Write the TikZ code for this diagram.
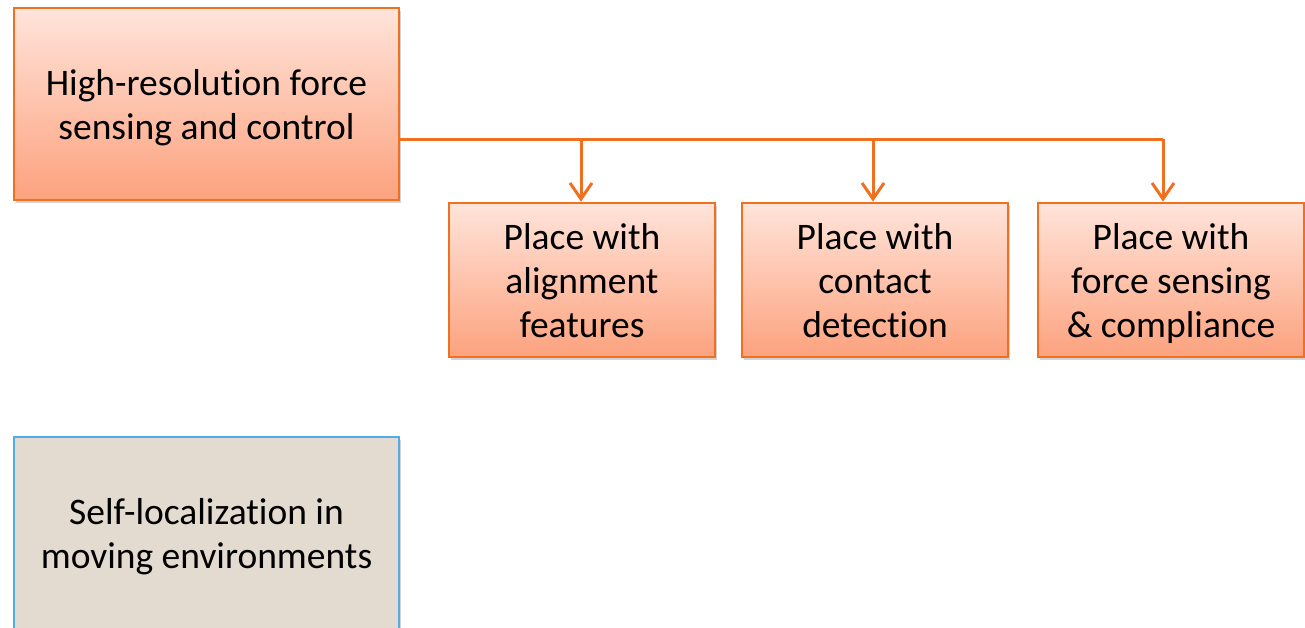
\documentclass[tikz,border=0pt]{standalone}
\usepackage{fontspec}
\setmainfont{Carlito}[Ligatures={NoCommon}]
\usetikzlibrary{arrows.meta,shadows}
\definecolor{orangeline}{HTML}{F07020}
\definecolor{toptone}{HTML}{FFE4DA}
\definecolor{bottone}{HTML}{FCA27E}
\definecolor{blueline}{HTML}{4FACE4}
\definecolor{beige}{HTML}{E3DBCF}
\newcommand{\firststrut}{\rule[-13.2pt]{0pt}{54.2pt}}
\begin{document}
\begin{tikzpicture}[x=1pt,y=-1pt,
  obox/.style={draw=orangeline, line width=2.8pt, top color=toptone, bottom color=bottone,
    inner sep=0pt, align=center, font=\fontsize{37.5}{44}\selectfont,
    drop shadow={opacity=0.35, shadow xshift=2pt, shadow yshift=-3pt}},
  bbox/.style={draw=blueline, line width=2.8pt, fill=beige,
    inner sep=0pt, align=center, font=\fontsize{37.5}{44}\selectfont,
    drop shadow={opacity=0.35, shadow xshift=2pt, shadow yshift=-3pt}},
  conn/.style={draw=orangeline, line width=3pt},
  arr/.style={conn, -{Straight Barb[length=16pt, width=22pt, line width=3pt]}}]
\useasboundingbox (0,0) rectangle (1305,627);
\node[obox, minimum width=385pt, minimum height=192pt] (top) at (206.5,104) {\firststrut High-resolution force\\\strut sensing and control};
\node[obox, minimum width=266pt, minimum height=154pt] (b1) at (582,280) {\firststrut Place with\\\strut alignment\\\strut features};
\node[obox, minimum width=266pt, minimum height=154pt] (b2) at (875,280) {\firststrut Place with\\\strut contact\\\strut detection};
\node[obox, minimum width=266pt, minimum height=154pt] (b3) at (1171,280) {\firststrut Place with\\\strut force sensing\\\strut \& compliance};
\node[bbox, minimum width=385pt, minimum height=192pt] (loc) at (206.5,533) {\firststrut Self-localization in\\\strut moving environments};
\coordinate (j1) at (581,139);
\coordinate (j2) at (873,139);
\coordinate (j3) at (1163,139);
\draw[conn] (top.east |- j1) -- (j3);
\draw[arr] (j1) -- (b1.north -| j1);
\draw[arr] (j2) -- (b2.north -| j2);
\draw[arr] (j3) -- (b3.north -| j3);
\end{tikzpicture}
\end{document}
